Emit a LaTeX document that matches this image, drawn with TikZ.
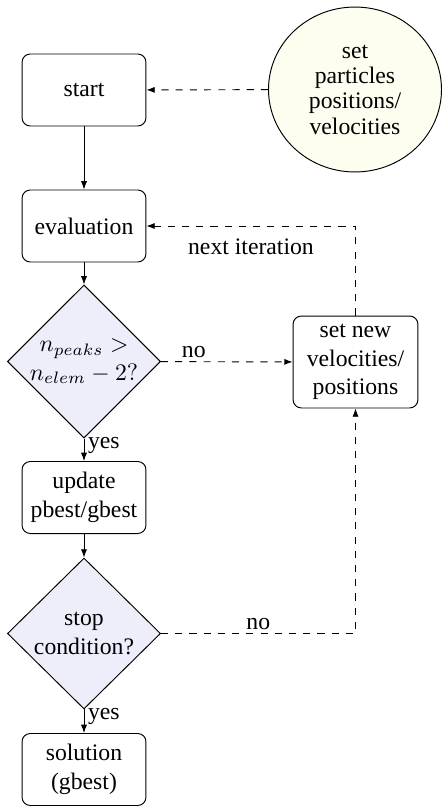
\documentclass[tikz,border=0pt]{standalone}
\usepackage{fontspec}
\setmainfont{Liberation Serif}
\usetikzlibrary{shapes.geometric,arrows.meta}

\definecolor{decisionfill}{RGB}{238,238,251}
\definecolor{initfill}{RGB}{253,253,240}

\tikzset{
  stepbox/.style={draw, rounded corners=3.5pt, align=center, inner sep=1pt,
    minimum width=52.3pt, minimum height=30.4pt},
  decision/.style={draw, diamond, fill=decisionfill, align=center, inner sep=0pt,
    minimum width=64.6pt, minimum height=63.7pt},
  initnode/.style={draw, ellipse, fill=initfill, align=center, inner sep=0pt,
    minimum width=73pt, minimum height=69.6pt},
  flow/.style={-{Latex[length=3.5pt,width=2.6pt]}},
  loop/.style={flow, dashed},
  lbl/.style={inner sep=1.5pt}
}

\begin{document}
\begin{tikzpicture}[x=0.422pt, y=-0.422pt, font=\fontsize{10}{12}\selectfont]
  \useasboundingbox (0,0) rectangle (442,806);

  % main column
  \node[stepbox] (start) at (84,90) {start};
  \node[stepbox] (eval) at (84,226) {evaluation};
  \node[decision] (peaks) at (84,361.5) {$n_{peaks} >$\\$n_{elem}-2?$};
  \node[stepbox] (update) at (84,497.5) {update\\pbest/gbest};
  \node[decision] (stop) at (84,633.5) {stop\\condition?};
  \node[stepbox] (sol) at (84,769.5) {solution\\(gbest)};

  % side nodes
  \node[initnode] (init) at (355,89.5) {set\\[-1.3pt]particles\\[-1.3pt]positions/\\[-1.3pt]velocities};
  \node[stepbox, minimum height=38.8pt, minimum width=52.7pt] (newvel) at (355.5,362) {set new\\velocities/\\positions};

  % solid flow
  \draw[flow] (start) -- (eval);
  \draw[flow] (eval) -- (peaks);
  \draw[flow] (peaks) -- node[lbl, pos=0.3, right] {yes} (update);
  \draw[flow] (update) -- (stop);
  \draw[flow] (stop) -- node[lbl, pos=0.3, right] {yes} (sol);

  % dashed loops
  \draw[loop] (init) -- (start);
  \draw[loop] (peaks) -- node[lbl, pos=0.25, above] {no} (newvel);
  \draw[loop] (stop.east) -| node[lbl, pos=0.25, above] {no} (newvel.south);
  \draw[loop] (newvel.north) |- node[pos=0.75, below, inner sep=5pt] {next iteration} (eval.east);
\end{tikzpicture}
\end{document}
